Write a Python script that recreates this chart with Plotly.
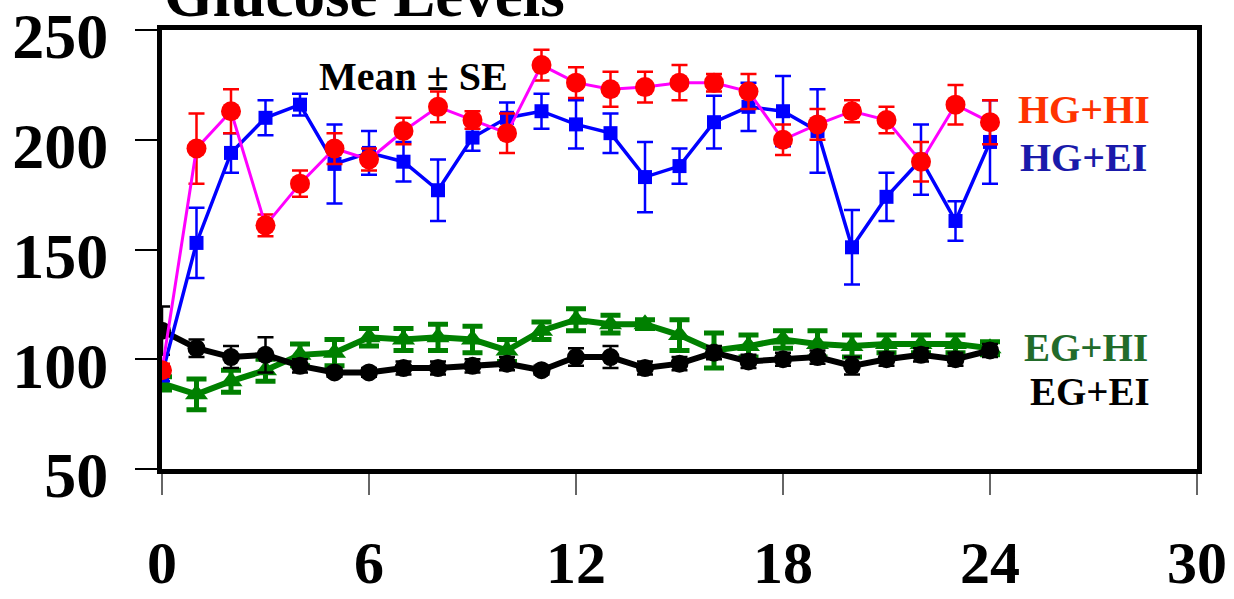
import plotly.graph_objects as go

hours = list(range(25))

hg_hi = [95, 196, 213, 161, 180, 196, 191, 204, 215, 209, 203, 234, 226, 223, 224, 226, 226, 222, 200, 207, 213, 209, 190, 216, 208]
hg_hi_se = [3, 16, 10, 5, 6, 7, 5, 6, 7, 4, 9, 7, 7, 8, 7, 8, 4, 8, 7, 7, 5, 6, 9, 9, 10]

hg_ei = [93, 153, 194, 210, 216, 189, 194, 190, 177, 201, 210, 213, 207, 203, 183, 188, 208, 215, 213, 204, 151, 174, 191, 163, 199]
hg_ei_se = [3, 16, 9, 8, 5, 18, 10, 9, 14, 6, 7, 8, 11, 9, 16, 8, 12, 11, 16, 19, 17, 11, 16, 9, 19]

eg_hi = [89, 84, 90, 95, 102, 103, 110, 109, 110, 109, 104, 113, 118, 116, 116, 111, 104, 106, 109, 107, 106, 107, 107, 107, 105]
eg_hi_se = [3, 7, 5, 5, 5, 6, 4, 5, 6, 6, 5, 4, 5, 4, 2, 7, 8, 5, 4, 6, 5, 4, 4, 4, 3]

eg_ei = [113, 105, 101, 102, 97, 94, 94, 96, 96, 97, 98, 95, 101, 101, 96, 98, 103, 99, 100, 101, 97, 100, 102, 100, 104]
eg_ei_se = [11, 4, 5, 8, 3, 2, 2, 3, 3, 3, 3, 2, 4, 5, 3, 3, 3, 3, 3, 3, 4, 3, 3, 3, 3]

x_ticks = [0, 6, 12, 18, 24, 30]
y_ticks = [50, 100, 150, 200, 250]

FONT = "Liberation Serif"

fig = go.Figure()

fig.add_trace(go.Scatter(
    x=hours, y=eg_hi, mode="lines+markers",
    line=dict(color="#008000", width=6),
    marker=dict(symbol="triangle-up", size=20, color="#008000"),
    error_y=dict(type="data", array=eg_hi_se, color="#008000", thickness=5, width=10),
    name="EG+HI", showlegend=False))

fig.add_trace(go.Scatter(
    x=hours, y=eg_ei, mode="lines+markers",
    line=dict(color="black", width=6),
    marker=dict(symbol="circle", size=18, color="black"),
    error_y=dict(type="data", array=eg_ei_se, color="black", thickness=2.5, width=8),
    name="EG+EI", showlegend=False))

fig.add_trace(go.Scatter(
    x=hours, y=hg_ei, mode="lines+markers",
    line=dict(color="#0000FF", width=3.5),
    marker=dict(symbol="square", size=14, color="#0000FF"),
    error_y=dict(type="data", array=hg_ei_se, color="#0000FF", thickness=2.5, width=8),
    name="HG+EI", showlegend=False))

fig.add_trace(go.Scatter(
    x=hours, y=hg_hi, mode="lines+markers",
    line=dict(color="#FF00FF", width=3),
    marker=dict(symbol="circle", size=20, color="#FF0000"),
    error_y=dict(type="data", array=hg_hi_se, color="#FF0000", thickness=2.5, width=8),
    name="HG+HI", showlegend=False))

annotations = [
    dict(text="<b>Glucose Levels</b>", xref="paper", yref="paper", x=0.0, y=1.079,
         xanchor="left", yanchor="middle", showarrow=False,
         font=dict(family=FONT, size=63, color="black")),
    dict(text="<b>Mean ± SE</b>", xref="x", yref="y", x=7.28, y=228.6,
         xanchor="center", yanchor="middle", showarrow=False,
         font=dict(family=FONT, size=40, color="black")),
    dict(text="<b>HG+HI</b>", xref="x", yref="y", x=28.7, y=214,
         xanchor="right", yanchor="middle", showarrow=False,
         font=dict(family=FONT, size=40, color="#FF3300")),
    dict(text="<b>HG+EI</b>", xref="x", yref="y", x=28.6, y=192,
         xanchor="right", yanchor="middle", showarrow=False,
         font=dict(family=FONT, size=40, color="#1A1AAA")),
    dict(text="<b>EG+HI</b>", xref="x", yref="y", x=28.65, y=105.5,
         xanchor="right", yanchor="middle", showarrow=False,
         font=dict(family=FONT, size=39, color="#226B2A")),
    dict(text="<b>EG+EI</b>", xref="x", yref="y", x=28.7, y=85.5,
         xanchor="right", yanchor="middle", showarrow=False,
         font=dict(family=FONT, size=39, color="black")),
]

fig.update_layout(
    width=1234, height=599,
    margin=dict(l=162, r=37, t=30, b=130),
    paper_bgcolor="white", plot_bgcolor="white",
    annotations=annotations,
    xaxis=dict(range=[0, 30], tickvals=x_ticks, ticktext=[f"<b>{v}</b>" for v in x_ticks],
               automargin=False, ticklabeloverflow="allow",
               showgrid=False, zeroline=False, showline=True, linecolor="black",
               linewidth=5, mirror=True, ticks="outside", ticklen=21,
               tickcolor="#666666", tickwidth=1.5, ticklabelstandoff=16,
               tickfont=dict(family=FONT, size=60, color="black")),
    yaxis=dict(range=[50, 250], tickvals=y_ticks, ticktext=[f"<b>{v}</b>" for v in y_ticks],
               automargin=False, ticklabeloverflow="allow",
               showgrid=False, zeroline=False, showline=True, linecolor="black",
               linewidth=5, mirror=True, ticks="outside", ticklen=22,
               tickcolor="black", tickwidth=1.5, ticklabelstandoff=14,
               ticklabelshift=6,
               tickfont=dict(family=FONT, size=64, color="black")),
)

fig.write_html("out.html")
